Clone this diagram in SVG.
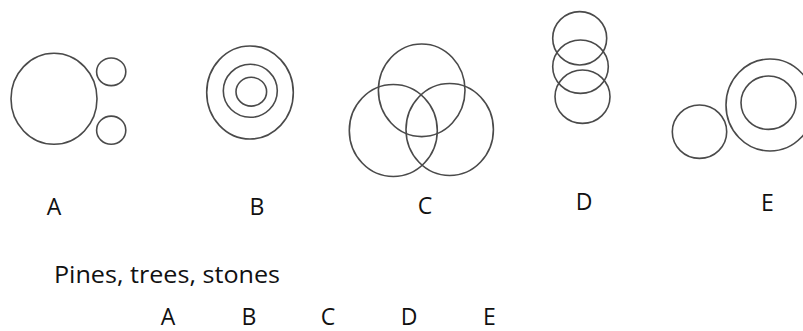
<svg xmlns="http://www.w3.org/2000/svg" width="803" height="331" viewBox="0 0 803 331">
<style>
.c{fill:none;stroke:#4a4a4a;stroke-width:1.6}
.t{font-family:"Open Sans","Liberation Sans",sans-serif;font-size:23px;fill:#111;text-anchor:middle}
.p{font-family:"Open Sans","Liberation Sans",sans-serif;font-size:23px;fill:#111}
</style>
<rect width="803" height="331" fill="#fff"/>
<g id="A">
<ellipse class="c" cx="54" cy="98.8" rx="43" ry="45.5"/>
<ellipse class="c" cx="111.2" cy="71.8" rx="14.6" ry="13.8"/>
<ellipse class="c" cx="111.2" cy="130.2" rx="14.6" ry="14.1"/>
</g>
<g id="B">
<ellipse class="c" cx="250" cy="92.5" rx="43.3" ry="46.5"/>
<ellipse class="c" cx="250.3" cy="90.8" rx="27" ry="26.5"/>
<ellipse class="c" cx="251.3" cy="91.7" rx="15.3" ry="14.4"/>
</g>
<g id="C">
<ellipse class="c" cx="421.7" cy="90.3" rx="43.3" ry="46.3"/>
<ellipse class="c" cx="393.3" cy="130.5" rx="44" ry="46"/>
<ellipse class="c" cx="449.7" cy="129.5" rx="43.7" ry="46"/>
</g>
<g id="D">
<ellipse class="c" cx="579.7" cy="38.3" rx="27" ry="26.7"/>
<ellipse class="c" cx="580.5" cy="66.7" rx="27.8" ry="26.7"/>
<ellipse class="c" cx="582.5" cy="96.7" rx="27.5" ry="26.7"/>
</g>
<g id="E">
<ellipse class="c" cx="699.5" cy="131.7" rx="27.2" ry="26.7"/>
<ellipse class="c" cx="770" cy="105" rx="44" ry="46"/>
<ellipse class="c" cx="768.5" cy="102.7" rx="27.5" ry="26.7"/>
</g>
<g id="labels">
<text class="t" x="54" y="215">A</text>
<text class="t" x="257" y="215">B</text>
<text class="t" x="425" y="214">C</text>
<text class="t" x="584" y="210">D</text>
<text class="t" x="767.5" y="211">E</text>
<text class="p" x="54" y="283" textLength="226" lengthAdjust="spacingAndGlyphs">Pines, trees, stones</text>
<text class="t" x="168" y="325">A</text>
<text class="t" x="249" y="325">B</text>
<text class="t" x="328" y="325">C</text>
<text class="t" x="409" y="325">D</text>
<text class="t" x="489.5" y="325">E</text>
</g>
</svg>
